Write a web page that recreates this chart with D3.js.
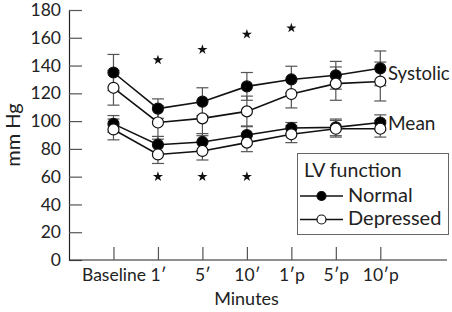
<!DOCTYPE html>
<html><head><meta charset="utf-8">
<script src="https://cdn.jsdelivr.net/npm/d3@7"></script>
<style>
body{margin:0;background:#fff;}
svg{display:block;font-family:Lato,"DejaVu Sans",sans-serif;}
</style></head>
<body><svg id="c" width="452" height="312"></svg>
<script>
const categories = ["Baseline","1\u2032","5\u2032","10\u2032","1\u2032p","5\u2032p","10\u2032p"];
const yTicks = [0,20,40,60,80,100,120,140,160,180];
const systolicNormal = [135,109,114,125,130,133,138];
const systolicNormalErr = [13,7,10,10,9.5,10,12.5];
const systolicDepressed = [124,99,102,107,119.5,127,128.5];
const systolicDepressedErr = [12.5,12,12.5,11,10,12,14];
const meanNormal = [98,83,85,90,95,95.5,99];
const meanNormalErr = [6,6,6,6.5,4,6,5.5];
const meanDepressed = [94,76,78.5,84.5,90.5,94.5,94.5];
const meanDepressedErr = [7.5,6.5,6.5,6.5,6,6,6];
// significance stars: [category index, value]
const starsTop = [[1,144],[2,151.5],[3,162.5],[4,167]];
const starsBottom = [[1,60],[2,60],[3,60]];

const svg = d3.select("#c");
const x = d3.scaleLinear().domain([0,8.5]).range([69,447]);
const y = d3.scaleLinear().domain([0,180]).range([260,10]);
const ink = "#222";

// axes
const ya = svg.append("g").attr("transform","translate(69,0)")
  .call(d3.axisLeft(y).tickValues(yTicks).tickSizeInner(-13).tickSizeOuter(0).tickPadding(8));
const xa = svg.append("g").attr("transform","translate(0,260)")
  .call(d3.axisBottom(x).tickValues(d3.range(1,8)).tickFormat(i=>categories[i-1]).tickSizeInner(-13).tickSizeOuter(0).tickPadding(9));
[ya,xa].forEach(g=>{
  g.select(".domain").attr("stroke",ink).attr("stroke-width",1.2);
  g.selectAll(".tick line").attr("stroke","#555").attr("stroke-width",1.2);
  g.selectAll("text").attr("fill",ink).attr("font-family","Lato,'DejaVu Sans',sans-serif");
});
ya.selectAll("text").attr("font-size",17.5);
xa.selectAll("text").attr("font-size",17.5);
xa.select(".domain").attr("d","M69,0H447");

svg.append("text").attr("transform","translate(20,135) rotate(-90)")
  .attr("text-anchor","middle").attr("font-size",20).attr("fill",ink).text("mm Hg");
svg.append("text").attr("x",246.5).attr("y",305).attr("text-anchor","middle")
  .attr("font-size",18).attr("fill",ink).text("Minutes");

const series = [
  {v:systolicNormal,e:systolicNormalErr,fill:"#000"},
  {v:systolicDepressed,e:systolicDepressedErr,fill:"#fff"},
  {v:meanNormal,e:meanNormalErr,fill:"#000"},
  {v:meanDepressed,e:meanDepressedErr,fill:"#fff"}
];
// error bars
const eb = svg.append("g").attr("stroke","#555").attr("stroke-width",1.2).attr("fill","none");
series.forEach(s=>{
  s.v.forEach((v,i)=>{
    const cx = x(i+1), t = y(v+s.e[i]), b = y(v-s.e[i]);
    eb.append("line").attr("x1",cx).attr("x2",cx).attr("y1",t).attr("y2",b);
    eb.append("line").attr("x1",cx-6).attr("x2",cx+6).attr("y1",t).attr("y2",t);
    eb.append("line").attr("x1",cx-6).attr("x2",cx+6).attr("y1",b).attr("y2",b);
  });
});
const line = d3.line().x((d,i)=>x(i+1)).y(d=>y(d));
series.forEach(s=>{
  svg.append("path").attr("d",line(s.v)).attr("fill","none").attr("stroke","#111").attr("stroke-width",1.6);
});
series.forEach(s=>{
  svg.append("g").selectAll("circle").data(s.v).join("circle")
    .attr("cx",(d,i)=>x(i+1)).attr("cy",d=>y(d)).attr("r",5.5)
    .attr("fill",s.fill).attr("stroke","#111").attr("stroke-width",1.2);
});
// stars
const star = d3.symbol().type(d3.symbolStar).size(32);
svg.append("g").selectAll("path").data(starsTop.concat(starsBottom)).join("path")
  .attr("d",star).attr("transform",d=>`translate(${x(d[0]+1)},${y(d[1])})`).attr("fill","#111");

// series labels
svg.append("text").attr("x",388).attr("y",80).attr("font-size",18.5).attr("fill",ink).text("Systolic");
svg.append("text").attr("x",388).attr("y",130).attr("font-size",19).attr("fill",ink).text("Mean");

// legend
const lg = svg.append("g");
lg.append("rect").attr("x",297.5).attr("y",153.5).attr("width",151).attr("height",81)
  .attr("fill","#fff").attr("stroke","#666").attr("stroke-width",1);
lg.append("text").attr("x",304).attr("y",177).attr("font-size",19.5).attr("fill",ink).text("LV function");
[["Normal","#000",196],["Depressed","#fff",219.5]].forEach(([t,f,ly])=>{
  lg.append("line").attr("x1",300).attr("x2",343).attr("y1",ly).attr("y2",ly).attr("stroke","#111").attr("stroke-width",1.5);
  lg.append("circle").attr("cx",321.5).attr("cy",ly).attr("r",4.5).attr("fill",f).attr("stroke","#111").attr("stroke-width",1.2);
  lg.append("text").attr("x",348).attr("y",ly+5.5).attr("font-size",20).attr("fill",ink).text(t);
});
</script></body></html>
